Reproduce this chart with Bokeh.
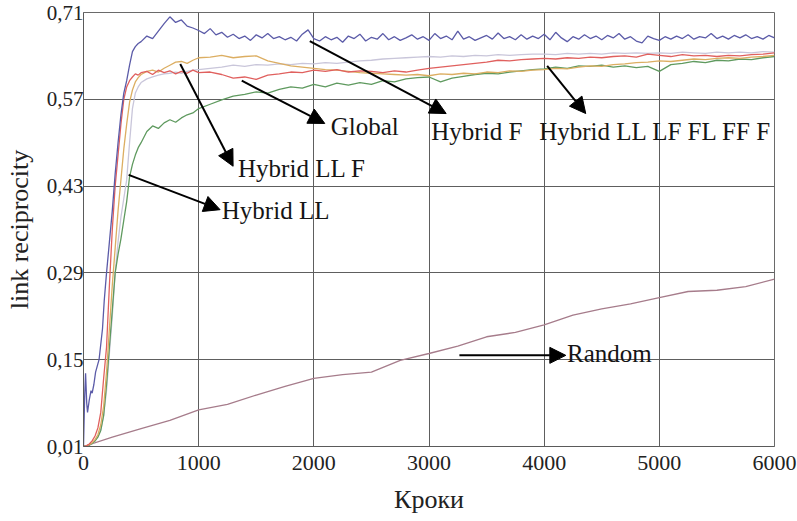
from bokeh.plotting import figure
from bokeh.models import Arrow, NormalHead, Label, FixedTicker, CustomJSTickFormatter, Range1d
from bokeh.embed import file_html
from bokeh.resources import INLINE

# ---------------- data ----------------
X_TICKS = [0, 1000, 2000, 3000, 4000, 5000, 6000]
Y_TICKS = [0.01, 0.15, 0.29, 0.43, 0.57, 0.71]

# common sampling steps for most series
X_A = list(range(0, 501, 25)) + list(range(550, 1001, 50)) + list(range(1100, 6001, 100))

global_y = [0.01, 0.011, 0.014, 0.019, 0.027, 0.04, 0.065, 0.12, 0.17, 0.27, 0.36, 0.43, 0.48, 0.53, 0.57, 0.59, 0.6, 0.606, 0.611, 0.609, 0.613,
            0.615, 0.61, 0.617, 0.613, 0.616, 0.611, 0.615, 0.612, 0.617, 0.613,
            0.614, 0.61, 0.604, 0.606, 0.602, 0.609, 0.611, 0.614, 0.613, 0.617,
            0.615, 0.618, 0.614, 0.616, 0.615, 0.613, 0.616, 0.614, 0.617, 0.62,
            0.622, 0.624, 0.626, 0.628, 0.63, 0.633, 0.632, 0.634, 0.635, 0.636,
            0.635, 0.637, 0.636, 0.638, 0.637, 0.639, 0.64, 0.638, 0.643, 0.641,
            0.639, 0.642, 0.64, 0.641, 0.639, 0.641, 0.64, 0.642, 0.643, 0.645]

hybrid_ll_f_y = [0.01, 0.011, 0.013, 0.016, 0.021, 0.029, 0.045, 0.075, 0.13, 0.2, 0.27, 0.33, 0.39, 0.44, 0.49, 0.53, 0.565, 0.585, 0.598, 0.605, 0.61,
                 0.615, 0.617, 0.614, 0.62, 0.625, 0.63, 0.631, 0.628, 0.633, 0.637,
                 0.638, 0.641, 0.637, 0.639, 0.64, 0.632, 0.628, 0.624, 0.622, 0.62,
                 0.618, 0.617, 0.615, 0.613, 0.612, 0.611, 0.61, 0.609, 0.61, 0.608,
                 0.611, 0.61, 0.612, 0.611, 0.614, 0.613, 0.616, 0.615, 0.617, 0.618,
                 0.62, 0.619, 0.622, 0.624, 0.623, 0.626, 0.627, 0.629, 0.63, 0.632,
                 0.631, 0.633, 0.635, 0.634, 0.636, 0.637, 0.636, 0.638, 0.639, 0.641]

hybrid_all_y = [0.01, 0.011, 0.012, 0.015, 0.019, 0.026, 0.037, 0.06, 0.1, 0.16, 0.22, 0.29, 0.34, 0.38, 0.41, 0.44, 0.5, 0.555, 0.58, 0.59, 0.597,
                0.603, 0.606, 0.609, 0.611, 0.612, 0.614, 0.612, 0.615, 0.617, 0.618,
                0.62, 0.622, 0.625, 0.623, 0.626, 0.625, 0.627, 0.626, 0.628, 0.627,
                0.629, 0.628, 0.63, 0.632, 0.633, 0.635, 0.636, 0.637, 0.638, 0.639,
                0.638, 0.64, 0.639, 0.641, 0.64, 0.642, 0.641, 0.642, 0.643, 0.643,
                0.642, 0.644, 0.643, 0.644, 0.643, 0.645, 0.644, 0.645, 0.644, 0.645,
                0.644, 0.646, 0.645, 0.644, 0.646, 0.645, 0.646, 0.645, 0.647, 0.646]

hybrid_ll_y = [0.01, 0.011, 0.012, 0.015, 0.019, 0.025, 0.036, 0.06, 0.11, 0.17, 0.23, 0.29, 0.32, 0.345, 0.375, 0.405, 0.445, 0.465, 0.48, 0.492, 0.5,
               0.518, 0.527, 0.523, 0.532, 0.537, 0.533, 0.54, 0.545, 0.548, 0.555,
               0.562, 0.569, 0.575, 0.578, 0.582, 0.58, 0.586, 0.59, 0.588, 0.594,
               0.59, 0.596, 0.593, 0.597, 0.594, 0.6, 0.598, 0.603, 0.605, 0.606,
               0.598, 0.604, 0.607, 0.61, 0.612, 0.611, 0.614, 0.616, 0.618, 0.619,
               0.622, 0.62, 0.624, 0.623, 0.625, 0.622, 0.624, 0.621, 0.623, 0.615,
               0.626, 0.628, 0.631, 0.629, 0.633, 0.632, 0.635, 0.634, 0.637, 0.639]

X_F = [0, 10, 18, 28, 35, 50, 65, 75, 90, 105, 120, 135, 150, 165, 180, 200, 225, 250, 275, 300,
       325, 350, 375, 400, 425, 450, 475, 500] + list(range(550, 6001, 50))
hybrid_f_y = [0.01, 0.09, 0.128, 0.08, 0.065, 0.085, 0.1, 0.096, 0.11, 0.13, 0.14, 0.15, 0.175, 0.2, 0.245, 0.29, 0.34, 0.39, 0.45, 0.5,
              0.545, 0.58, 0.6, 0.625, 0.647, 0.655, 0.66, 0.663,
              0.672, 0.668, 0.68, 0.692, 0.703, 0.694, 0.698, 0.688, 0.685, 0.681,
              0.676, 0.684, 0.674, 0.678, 0.670, 0.675, 0.668, 0.672, 0.665, 0.674,
              0.669, 0.676, 0.668, 0.671, 0.666, 0.67, 0.664, 0.675, 0.682, 0.668,
              0.664, 0.671, 0.666, 0.67, 0.662, 0.672, 0.668, 0.675, 0.664, 0.67,
              0.667, 0.676, 0.666, 0.671, 0.665, 0.669, 0.674, 0.667, 0.671, 0.665,
              0.676, 0.668, 0.672, 0.666, 0.68, 0.667, 0.671, 0.665, 0.669, 0.673,
              0.667, 0.677, 0.668, 0.671, 0.666, 0.674, 0.667, 0.672, 0.668, 0.675,
              0.666, 0.678, 0.669, 0.663, 0.671, 0.667, 0.674, 0.668, 0.672, 0.666,
              0.673, 0.669, 0.676, 0.667, 0.671, 0.664, 0.661, 0.672, 0.668, 0.665,
              0.671, 0.667, 0.672, 0.668, 0.674, 0.667, 0.671, 0.669, 0.676, 0.668,
              0.672, 0.667, 0.673, 0.669, 0.674, 0.668, 0.671, 0.667, 0.673, 0.669]

X_R = list(range(0, 6001, 250))
random_y = [0.01, 0.025, 0.039, 0.052, 0.069, 0.078, 0.093, 0.107, 0.12, 0.126, 0.13, 0.149, 0.16,
            0.172, 0.187, 0.194, 0.206, 0.222, 0.232, 0.24, 0.25, 0.26, 0.262, 0.268, 0.28]

# annotations: (text, arrow start x, y, arrow end x, y, text x, text y)
ANNOT = [
    ("Hybrid LL F", 840, 0.627, 1299, 0.462, 1342, 0.458),
    ("Global", 1374, 0.600, 2095, 0.531, 2147, 0.526),
    ("Hybrid F", 1965, 0.664, 3149, 0.547, 3020, 0.518),
    ("Hybrid LL LF FL FF F", 4026, 0.624, 4361, 0.547, 3957, 0.518),
    ("Hybrid LL", 392, 0.448, 1186, 0.392, 1201, 0.390),
    ("Random", 3264, 0.157, 4188, 0.157, 4199, 0.160),
]

# ---------------- figure ----------------
p = figure(width=797, height=521, output_backend="svg", toolbar_location=None,
           x_range=Range1d(0, 6000), y_range=Range1d(0.01, 0.71),
           min_border_left=83, min_border_right=23, min_border_top=12, min_border_bottom=75)
p.background_fill_color = "white"
p.border_fill_color = "white"
p.outline_line_color = "#6a6a6a"
p.outline_line_width = 1

p.xaxis.ticker = FixedTicker(ticks=X_TICKS)
p.yaxis.ticker = FixedTicker(ticks=Y_TICKS)
p.yaxis.formatter = CustomJSTickFormatter(code="return tick.toFixed(2).replace('.', ',');")

for ax in (p.xaxis[0], p.yaxis[0]):
    ax.major_tick_in = 0
    ax.major_tick_out = 0
    ax.minor_tick_in = 0
    ax.minor_tick_out = 0
    ax.axis_line_color = "#5a5a5a"
    ax.major_label_text_font = "Liberation Serif"
    ax.major_label_text_color = "#222222"
    ax.axis_label_text_font = "Liberation Serif"
    ax.axis_label_text_font_style = "normal"
    ax.axis_label_text_font_size = "26px"
    ax.axis_label_text_color = "#222222"

p.xaxis.major_label_text_font_size = "22px"
p.yaxis.major_label_text_font_size = "21px"
p.xaxis.major_label_standoff = 9
p.yaxis.major_label_standoff = 0
p.xaxis.axis_label_standoff = 12
p.yaxis.axis_label_standoff = 10
p.xaxis.axis_label = "Кроки"
p.yaxis.axis_label = "link reciprocity"

p.xgrid.grid_line_color = "#5e5e5e"
p.ygrid.grid_line_color = "#5e5e5e"
p.xgrid.grid_line_width = 1
p.ygrid.grid_line_width = 1

LW = 1.3
p.line(X_R, random_y, line_color="#a67c8b", line_width=LW)
p.line(X_A, hybrid_all_y, line_color="#c9c6da", line_width=LW)
p.line(X_A, hybrid_ll_y, line_color="#5f9a5f", line_width=LW)
p.line(X_A, hybrid_ll_f_y, line_color="#dcae62", line_width=LW)
p.line(X_A, global_y, line_color="#e0605e", line_width=LW)
p.line(X_F, hybrid_f_y, line_color="#5b5ba8", line_width=LW)

for txt, x0, y0, x1, y1, tx, ty in ANNOT:
    p.add_layout(Arrow(end=NormalHead(size=16, fill_color="black", line_color="black"),
                       x_start=x0, y_start=y0, x_end=x1, y_end=y1,
                       line_color="black", line_width=2))
    p.add_layout(Label(x=tx, y=ty, text=txt, text_font="Liberation Serif",
                       text_font_size="25px", text_color="#151515",
                       text_align="left", text_baseline="middle"))

open("out.html", "w").write(file_html(p, INLINE))
